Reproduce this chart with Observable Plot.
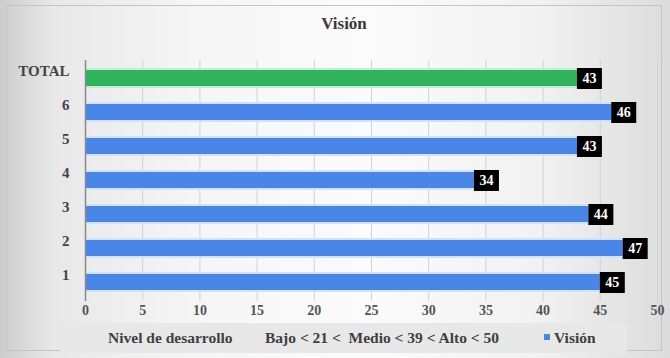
<!DOCTYPE html>
<html>
<head>
<meta charset="utf-8">
<script src="https://cdn.jsdelivr.net/npm/d3@7"></script>
<script src="https://cdn.jsdelivr.net/npm/@observablehq/plot@0.6"></script>
<style>
  html, body { margin: 0; padding: 0; background: #ffffff; }
  #frame {
    position: relative; width: 670px; height: 358px; overflow: hidden;
    background: linear-gradient(to right, #cdcdcd 0%, #e8e8e8 8%, #f6f6f6 30%, #fbfbfb 55%, #f2f2f2 80%, #dcdcdc 100%);
    font-family: "Liberation Serif", "DejaVu Serif", serif;
  }
  #border { position: absolute; left: 6px; top: 5px; width: 656px; height: 346px; border: 1px solid #c4c4c4; box-sizing: border-box; }
  #title { position: absolute; left: 0; width: 688px; top: 14px; text-align: center; font-family: "Liberation Serif", serif; font-weight: bold; font-size: 17px; color: #3a3a3a; }
  #chart { position: absolute; left: 0; top: 40px; }
  #legend { position: absolute; left: 60px; top: 323px; width: 567px; height: 30px; background: #e8e8e8; font-family: "Liberation Serif", serif; font-weight: bold; font-size: 15.5px; color: #404040; }
  #legend span { position: absolute; top: 6px; white-space: pre; }
  #legend .sw { display: inline-block; width: 6px; height: 6px; margin-right: 4px; vertical-align: 3px; }
</style>
</head>
<body>
<div id="frame">
  <div id="border"></div>
  <div id="title"></div>
  <div id="chart"></div>
  <div id="legend"></div>
</div>
<script>
const title = "Visión";
const categories = ["TOTAL", "6", "5", "4", "3", "2", "1"];
const values = [43, 46, 43, 34, 44, 47, 45];
const xTicks = [0, 5, 10, 15, 20, 25, 30, 35, 40, 45, 50];
const seriesName = "Visión";
const legendTexts = ["Nivel de desarrollo", "Bajo < 21 <  Medio < 39 < Alto < 50"];
const blue = "#4a86e8";
const green = "#2fb45c";

const data = categories.map((c, i) => ({cat: c, value: values[i], total: c === "TOTAL"}));

document.getElementById("title").textContent = title;

// label box symbol (fixed pixel size)
const boxSymbol = {draw(ctx) { ctx.rect(-12.5, -10.5, 25, 21); }};

const chart = Plot.plot({
  width: 670,
  height: 290,
  marginLeft: 85,
  marginRight: 13,
  marginTop: 20,
  marginBottom: 29,
  style: {background: "transparent", fontFamily: "Liberation Serif, serif", fontSize: "14px", fontWeight: "bold", color: "#444"},
  x: {domain: [0, 50], ticks: xTicks, label: null},
  y: {domain: categories, paddingInner: 0.52, paddingOuter: 0.26, label: null},
  marks: [
    Plot.ruleX(xTicks.filter(t => t > 0), {stroke: "#d2d2d2", strokeWidth: 1}),
    Plot.barX(data, {y: "cat", x: "value", fill: d => d.total ? "#c3eed1" : "#d2e2fb", insetTop: -2, insetBottom: -2, insetRight: -2}),
    Plot.barX(data, {y: "cat", x: "value", fill: d => d.total ? green : blue}),
    Plot.ruleX([0], {stroke: "#8a8a8a", strokeWidth: 1.5}),
    Plot.axisX({ticks: xTicks, tickSize: 0, tickPadding: 4, fill: "#555", fontWeight: "bold", fontSize: 14}),
    Plot.axisY({tickSize: 0, tickPadding: 16, dy: -7, fill: "#444", fontWeight: "bold", fontSize: 15}),
    Plot.dot(data, {y: "cat", x: "value", symbol: boxSymbol, r: 10, dx: 12, fill: "#000", stroke: "none"}),
    Plot.text(data, {y: "cat", x: "value", text: d => String(d.value), dx: 12, fill: "#fff", fontWeight: "bold", fontSize: 14})
  ]
});
document.getElementById("chart").appendChild(chart);

const legend = document.getElementById("legend");
const s1 = document.createElement("span"); s1.style.left = "48px"; s1.textContent = legendTexts[0]; legend.appendChild(s1);
const s2 = document.createElement("span"); s2.style.left = "205px"; s2.textContent = legendTexts[1]; legend.appendChild(s2);
const s3 = document.createElement("span"); s3.style.left = "484px";
const sw = document.createElement("i"); sw.className = "sw"; sw.style.background = blue; s3.appendChild(sw);
s3.appendChild(document.createTextNode(seriesName)); legend.appendChild(s3);
</script>
</body>
</html>
